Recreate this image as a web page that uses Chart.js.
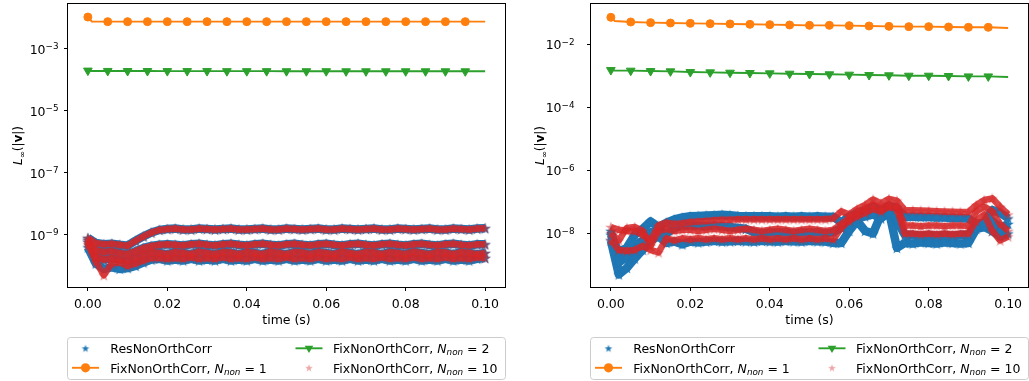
<!DOCTYPE html>
<html>
<head>
<meta charset="utf-8">
<script src="https://cdn.jsdelivr.net/npm/chart.js@4.4.1/dist/chart.umd.min.js"></script>
<style>
  body { margin: 0; background: #fff; }
  canvas { position: absolute; top: 0; }
  #chartLeft { left: 0; }
  #chartRight { left: 515px; }
</style>
</head>
<body>
<canvas id="chartLeft" width="515" height="381"></canvas>
<canvas id="chartRight" width="514" height="381"></canvas>
<script>
// time samples of the dense star clouds (s)
const timeSteps = [0, 0.002, 0.004, 0.006, 0.008, 0.01, 0.012, 0.014, 0.016, 0.018,
  0.02, 0.022, 0.024, 0.026, 0.028, 0.03, 0.032, 0.034, 0.036, 0.038,
  0.04, 0.042, 0.044, 0.046, 0.048, 0.05, 0.052, 0.054, 0.056, 0.058,
  0.06, 0.062, 0.064, 0.066, 0.068, 0.07, 0.072, 0.074, 0.076, 0.078,
  0.08, 0.082, 0.084, 0.086, 0.088, 0.09, 0.092, 0.094, 0.096, 0.098, 0.1];
// time samples of the fixed-correction lines
const lineTimes = [0, 0.001, 0.005, 0.01, 0.015, 0.02, 0.025, 0.03, 0.035, 0.04, 0.045,
  0.05, 0.055, 0.06, 0.065, 0.07, 0.075, 0.08, 0.085, 0.09, 0.095, 0.1];
const noMarker = [1, 21]; // line points drawn without a marker

const xTicks = [0, 0.02, 0.04, 0.06, 0.08, 0.1];
const leftYTicks = [1e-3, 1e-5, 1e-7, 1e-9];
const rightYTicks = [1e-2, 1e-4, 1e-6, 1e-8];

const legendNames = ['ResNonOrthCorr', 'FixNonOrthCorr', 'FixNonOrthCorr', 'FixNonOrthCorr'];
const legendNnon = [null, 1, 2, 10];

// ---- left panel ----
const leftFix1 = [0.0107, 0.0077, 0.0076, 0.0076, 0.0076, 0.0076, 0.0076, 0.0076, 0.0076, 0.0076, 0.0076,
  0.0076, 0.0076, 0.0076, 0.0076, 0.0076, 0.0076, 0.0076, 0.0076, 0.0076, 0.0076, 0.0076];
const leftFix2 = [2.0e-4, 1.95e-4, 1.95e-4, 1.94e-4, 1.94e-4, 1.93e-4, 1.93e-4, 1.93e-4, 1.92e-4, 1.92e-4, 1.92e-4,
  1.91e-4, 1.91e-4, 1.91e-4, 1.9e-4, 1.9e-4, 1.9e-4, 1.9e-4, 1.9e-4, 1.9e-4, 1.9e-4, 1.9e-4];

const leftResUpper = [8.0e-10, 5.5e-10, 5.0e-10, 5.2e-10, 4.8e-10, 4.5e-10, 6.5e-10, 9.0e-10, 1.2e-9, 1.45e-9,
  1.55e-9, 1.6e-9, 1.5e-9, 1.5e-9, 1.6e-9, 1.55e-9, 1.5e-9, 1.55e-9, 1.6e-9, 1.5e-9,
  1.5e-9, 1.55e-9, 1.6e-9, 1.5e-9, 1.5e-9, 1.6e-9, 1.55e-9, 1.5e-9, 1.55e-9, 1.6e-9,
  1.5e-9, 1.5e-9, 1.6e-9, 1.55e-9, 1.5e-9, 1.55e-9, 1.6e-9, 1.5e-9, 1.5e-9, 1.6e-9,
  1.55e-9, 1.5e-9, 1.55e-9, 1.6e-9, 1.5e-9, 1.5e-9, 1.6e-9, 1.55e-9, 1.5e-9, 1.6e-9, 1.65e-9];
const leftResMiddle = [7.0e-10, 3.2e-10, 2.8e-10, 3.0e-10, 2.6e-10, 2.4e-10, 3.0e-10, 3.8e-10, 4.4e-10, 4.8e-10,
  5.0e-10, 4.8e-10, 4.6e-10, 5.0e-10, 5.2e-10, 4.8e-10, 4.6e-10, 5.0e-10, 5.2e-10, 4.8e-10,
  4.6e-10, 5.0e-10, 5.2e-10, 4.8e-10, 4.6e-10, 5.0e-10, 5.2e-10, 4.8e-10, 4.6e-10, 5.0e-10,
  5.2e-10, 4.8e-10, 4.6e-10, 5.0e-10, 5.2e-10, 4.8e-10, 4.6e-10, 5.0e-10, 5.2e-10, 4.8e-10,
  4.6e-10, 5.0e-10, 5.2e-10, 4.8e-10, 4.6e-10, 5.0e-10, 5.2e-10, 4.8e-10, 4.6e-10, 5.0e-10, 5.0e-10];
const leftResLow1 = [6.0e-10, 2.0e-10, 1.6e-10, 1.8e-10, 1.6e-10, 1.5e-10, 1.8e-10, 2.4e-10, 2.8e-10, 2.6e-10,
  2.4e-10, 2.8e-10, 2.6e-10, 2.4e-10, 2.9e-10, 2.6e-10, 2.4e-10, 2.8e-10, 2.7e-10, 2.4e-10,
  2.8e-10, 2.6e-10, 2.4e-10, 2.9e-10, 2.6e-10, 2.4e-10, 2.8e-10, 2.7e-10, 2.4e-10, 2.8e-10,
  2.6e-10, 2.4e-10, 2.9e-10, 2.6e-10, 2.4e-10, 2.8e-10, 2.7e-10, 2.4e-10, 2.8e-10, 2.6e-10,
  2.4e-10, 2.9e-10, 2.6e-10, 2.4e-10, 2.8e-10, 2.7e-10, 2.4e-10, 2.8e-10, 2.6e-10, 2.4e-10, 2.6e-10];
const leftResLow2 = [4.0e-10, 1.2e-10, 8.0e-11, 9.0e-11, 8.0e-11, 8.5e-11, 1.0e-10, 1.3e-10, 1.6e-10, 1.7e-10,
  1.5e-10, 1.6e-10, 1.5e-10, 1.7e-10, 1.5e-10, 1.6e-10, 1.5e-10, 1.7e-10, 1.5e-10, 1.6e-10,
  1.5e-10, 1.7e-10, 1.5e-10, 1.6e-10, 1.5e-10, 1.7e-10, 1.5e-10, 1.6e-10, 1.5e-10, 1.7e-10,
  1.5e-10, 1.6e-10, 1.5e-10, 1.7e-10, 1.5e-10, 1.6e-10, 1.5e-10, 1.7e-10, 1.5e-10, 1.6e-10,
  1.5e-10, 1.7e-10, 1.5e-10, 1.6e-10, 1.5e-10, 1.7e-10, 1.5e-10, 1.6e-10, 1.5e-10, 1.7e-10, 1.8e-10];
const leftFixLow2 = [5.0e-10, 1.4e-10, 5.0e-11, 1.2e-10, 1.3e-10, 1.0e-10, 1.2e-10, 1.5e-10, 1.8e-10, 1.8e-10,
  1.7e-10, 1.8e-10, 1.7e-10, 1.9e-10, 1.7e-10, 1.8e-10, 1.7e-10, 1.9e-10, 1.7e-10, 1.8e-10,
  1.7e-10, 1.9e-10, 1.7e-10, 1.8e-10, 1.7e-10, 1.9e-10, 1.7e-10, 1.8e-10, 1.7e-10, 1.9e-10,
  1.7e-10, 1.8e-10, 1.7e-10, 1.9e-10, 1.7e-10, 1.8e-10, 1.7e-10, 1.9e-10, 1.7e-10, 1.8e-10,
  1.7e-10, 1.9e-10, 1.7e-10, 1.8e-10, 1.7e-10, 1.9e-10, 1.7e-10, 1.8e-10, 1.7e-10, 1.9e-10, 1.8e-10];

// ---- right panel ----
const rightFix1 = [0.0719, 0.055, 0.0512, 0.0488, 0.0475, 0.0464, 0.0453, 0.0443, 0.0432, 0.0421, 0.0411,
  0.0401, 0.0401, 0.0392, 0.0382, 0.0372, 0.0364, 0.0364, 0.0355, 0.0347, 0.0347, 0.033];
const rightFix2 = [0.00153, 0.00148, 0.00146, 0.00142, 0.00139, 0.00132, 0.00129, 0.00126, 0.00123, 0.0012, 0.00117,
  0.00114, 0.00112, 0.00109, 0.00106, 0.00104, 0.00101, 0.00101, 0.00099, 0.00096, 0.00096, 0.00092];

const rightResUpper = [9e-9, 2.5e-9, 3.5e-9, 9e-9, 1.4e-8, 2.4e-8, 1.6e-8, 2.2e-8, 2.8e-8, 3.2e-8,
  3.5e-8, 3.6e-8, 3.7e-8, 3.8e-8, 3.9e-8, 3.8e-8, 3.6e-8, 3.5e-8, 3.5e-8, 3.5e-8,
  3.5e-8, 3.4e-8, 3.5e-8, 3.4e-8, 3.5e-8, 3.4e-8, 3.5e-8, 3.4e-8, 3.4e-8,
  2.2e-8, 3.5e-8, 4.5e-8, 5.5e-8, 7e-8, 5.5e-8, 7.5e-8, 6.5e-8,
  3.4e-8, 3.4e-8, 3.3e-8, 3.3e-8, 3.2e-8, 3.2e-8, 3.1e-8, 3.1e-8, 3.0e-8,
  2.0e-8, 2.2e-8, 5.5e-8, 4.5e-8, 3.0e-8];
const rightResMiddle = [1.2e-8, 1.2e-9, 1.8e-9, 4e-9, 6e-9, 1.1e-8, 1.2e-8, 1.0e-8, 1.5e-8, 1.8e-8,
  1.8e-8, 1.8e-8, 1.7e-8, 1.8e-8, 1.7e-8, 1.6e-8, 1.5e-8, 1.4e-8,
  1.1e-8, 1.0e-8, 1.1e-8, 1.05e-8, 1.1e-8, 1.0e-8, 1.1e-8, 1.05e-8, 1.1e-8, 1.0e-8, 1.1e-8,
  1.5e-8, 2e-8, 3e-8, 3.5e-8, 4e-8, 3e-8, 4.5e-8, 2.5e-8,
  9e-9, 9e-9, 8.5e-9, 9e-9, 8.5e-9, 9e-9, 8.5e-9, 9e-9, 9e-9,
  1.8e-8, 2e-8, 2.5e-8, 1.5e-8, 2e-8];
const rightResLower = [6e-9, 5e-10, 8e-10, 1.6e-9, 3e-9, 6e-9, 8e-9, 5e-9, 5.5e-9, 4.5e-9,
  5.5e-9, 5.2e-9, 5.5e-9, 5.8e-9, 5.5e-9, 5.6e-9, 5.8e-9, 5.6e-9, 5.5e-9, 5.8e-9,
  5.6e-9, 5.5e-9, 5.8e-9, 5.6e-9, 5.5e-9, 5.8e-9, 5.6e-9, 5.5e-9, 5.0e-9,
  5e-9, 1.2e-8, 2.5e-8, 1.2e-8, 1.0e-8, 4e-8, 5e-8, 3.5e-9,
  5e-9, 4.8e-9, 5.2e-9, 5e-9, 4.8e-9, 5.2e-9, 5e-9, 4.8e-9, 5e-9,
  1.4e-8, 1.6e-8, 1.2e-8, 8e-9, 1.0e-8];

const rightFixUpper = [1.6e-8, 1.3e-8, 1.2e-8, 1.2e-8, 9e-9, 6e-9, 1.8e-8, 2.2e-8, 2.0e-8, 2.1e-8,
  2.3e-8, 2.4e-8, 2.5e-8, 2.6e-8, 2.7e-8, 2.7e-8, 2.8e-8, 2.8e-8, 2.8e-8, 2.8e-8,
  2.8e-8, 2.8e-8, 2.8e-8, 2.8e-8, 2.8e-8, 2.8e-8, 2.8e-8, 2.8e-8, 3.0e-8,
  5e-8, 4e-8, 6e-8, 8e-8, 1.2e-7, 9e-8, 1.25e-7, 1.1e-7,
  5.5e-8, 5.4e-8, 5.3e-8, 5.2e-8, 5.1e-8, 5e-8, 4.9e-8, 4.8e-8, 4.8e-8,
  8e-8, 1.15e-7, 1.3e-7, 7e-8, 4e-8];
const rightFixMiddle = [1.0e-8, 6e-9, 1.5e-8, 1.6e-8, 1.2e-8, 4e-9, 1.2e-8, 1.4e-8, 1.2e-8, 1.3e-8,
  1.3e-8, 1.2e-8, 1.3e-8, 1.4e-8, 1.3e-8, 1.2e-8, 1.3e-8, 1.4e-8, 1.3e-8, 1.2e-8,
  1.3e-8, 1.4e-8, 1.3e-8, 1.2e-8, 1.3e-8, 1.4e-8, 1.3e-8, 1.2e-8, 1.3e-8,
  2e-8, 3e-8, 4.5e-8, 6e-8, 8e-8, 6e-8, 8e-8, 7e-8,
  1.8e-8, 1.8e-8, 1.7e-8, 1.8e-8, 1.8e-8, 1.7e-8, 1.8e-8, 1.8e-8, 1.7e-8,
  5e-8, 7e-8, 5e-8, 2e-8, 1.2e-8];
const rightFixLower = [6e-9, 3e-9, 2.8e-9, 3e-9, 4e-9, 3e-9, 2.5e-9, 7e-9, 6e-9, 7e-9,
  6.5e-9, 7e-9, 6.5e-9, 7e-9, 6.5e-9, 7e-9, 6.5e-9, 7e-9, 6.5e-9, 7e-9,
  6.5e-9, 7e-9, 6.5e-9, 7e-9, 6.5e-9, 7e-9, 6.5e-9, 7e-9, 6.5e-9,
  1.5e-8, 2.5e-8, 3.5e-8, 4.5e-8, 6e-8, 5e-8, 7e-8, 6e-8,
  1.0e-8, 1.0e-8, 9.5e-9, 1.0e-8, 9.5e-9, 1.0e-8, 9.5e-9, 1.0e-8, 1.0e-8,
  2.5e-8, 4e-8, 1.2e-8, 6e-9, 8e-9];

const BLUE = '#1f77b4', ORANGE = '#ff7f0e', GREEN = '#2ca02c';
const FONT = 'DejaVu Sans';

Chart.defaults.font.family = FONT;
Chart.defaults.font.size = 12.5;
Chart.defaults.color = '#000';

// filled five-pointed star, like matplotlib's '*'
function starImage(fill, r) {
  const c = document.createElement('canvas');
  const s = Math.ceil(2 * r + 2);
  c.width = c.height = s;
  const g = c.getContext('2d');
  g.translate(s / 2, s / 2 + r * 0.1);
  g.beginPath();
  for (let i = 0; i < 10; i++) {
    const rad = i % 2 ? r * 0.4 : r;
    const a = -Math.PI / 2 + i * Math.PI / 5;
    g.lineTo(rad * Math.cos(a), rad * Math.sin(a));
  }
  g.closePath();
  g.fillStyle = fill;
  g.fill();
  return c;
}

const blueStar = starImage(BLUE, 6);
const redStar = starImage('rgba(214,39,40,0.5)', 6);
const blueStarSmall = starImage(BLUE, 4);
const pinkStarSmall = starImage('rgba(214,39,40,0.4)', 4);

function bandDataset(values, color, star, width, order) {
  return {
    data: timeSteps.map((t, i) => ({ x: t, y: values[i] })),
    showLine: true,
    borderColor: color,
    borderWidth: width,
    borderJoinStyle: 'round',
    pointStyle: star,
    pointRadius: 6,
    order: order
  };
}

function lineDataset(values, color, style, radius, order) {
  return {
    data: lineTimes.map((t, i) => ({ x: t, y: values[i] })),
    showLine: true,
    borderColor: color,
    borderWidth: 1.9,
    backgroundColor: color,
    pointStyle: style,
    pointRotation: style === 'triangle' ? 180 : 0,
    pointRadius: ctx => noMarker.includes(ctx.dataIndex) ? 0 : radius,
    pointBackgroundColor: color,
    pointBorderColor: color,
    pointBorderWidth: 1,
    order: order
  };
}

// rich text: list of runs [text, font, dy]
function drawRuns(ctx, runs, x, y, align) {
  let total = 0;
  runs.forEach(r => { ctx.font = r[1]; total += ctx.measureText(r[0]).width; });
  let cx = x;
  if (align === 'center') cx = x - total / 2;
  if (align === 'right') cx = x - total;
  runs.forEach(r => {
    ctx.font = r[1];
    ctx.fillText(r[0], cx, y + (r[2] || 0));
    cx += ctx.measureText(r[0]).width;
  });
}

function legendRuns(i) {
  const n = legendNnon[i];
  if (n === null) return [[legendNames[i], '12.5px ' + FONT]];
  return [[legendNames[i] + ', ', '12.5px ' + FONT], ['N', 'italic 12.5px ' + FONT],
    ['non', 'italic 8.8px ' + FONT, 2.2], [' = ' + n, '12.5px ' + FONT]];
}

function drawHandle(ctx, i, cx, cy) {
  if (i === 0 || i === 3) {
    const img = i === 0 ? blueStarSmall : pinkStarSmall;
    ctx.drawImage(img, cx - img.width / 2, cy - img.height / 2);
    return;
  }
  const color = i === 1 ? ORANGE : GREEN;
  ctx.strokeStyle = color;
  ctx.fillStyle = color;
  ctx.lineWidth = 1.9;
  ctx.beginPath();
  ctx.moveTo(cx - 13.5, cy);
  ctx.lineTo(cx + 13.5, cy);
  ctx.stroke();
  ctx.beginPath();
  if (i === 1) {
    ctx.arc(cx, cy, 4.6, 0, Math.PI * 2);
  } else {
    ctx.moveTo(cx - 4.3, cy - 2.6);
    ctx.lineTo(cx + 4.3, cy - 2.6);
    ctx.lineTo(cx, cy + 4.8);
    ctx.closePath();
  }
  ctx.fill();
}

function decor(panel) {
  return {
    id: 'decor',
    afterDraw(chart) {
      const ctx = chart.ctx;
      const a = chart.chartArea;
      const xs = chart.scales.x, ys = chart.scales.y;
      ctx.save();
      // spines
      ctx.strokeStyle = '#000';
      ctx.lineWidth = 1;
      ctx.strokeRect(a.left - 0.5, a.top - 0.5, a.right - a.left + 1, a.bottom - a.top + 1);

      ctx.fillStyle = '#000';
      ctx.textBaseline = 'alphabetic';
      // tick labels
      xTicks.forEach(v => {
        drawRuns(ctx, [[v.toFixed(2), '12.5px ' + FONT]], xs.getPixelForValue(v), 307.5, 'center');
      });
      panel.yTicks.forEach(v => {
        const e = Math.round(Math.log10(v));
        drawRuns(ctx, [['10', '12.5px ' + FONT], ['\u2212' + Math.abs(e), '8.8px ' + FONT, -4.2]],
          a.left - panel.labelGap, ys.getPixelForValue(v) + 4.6, 'right');
      });
      // x title
      drawRuns(ctx, [['time (s)', '12.5px ' + FONT]], (a.left + a.right) / 2, 324, 'center');
      // y title
      ctx.save();
      ctx.translate(panel.yTitleX, (a.top + a.bottom) / 2);
      ctx.rotate(-Math.PI / 2);
      drawRuns(ctx, [['L', 'italic 12px ' + FONT], ['\u221e', '8.5px ' + FONT, 2.5], ['(|', '12px ' + FONT],
        ['v', 'bold 12px ' + FONT], ['|)', '12px ' + FONT]], 0, 4, 'center');
      ctx.restore();

      // legend box
      const bx = a.left - 0.5, by = 337.5, bw = a.right - a.left + 1, bh = 42;
      ctx.beginPath();
      ctx.roundRect(bx, by, bw, bh, 3);
      ctx.fillStyle = '#fff';
      ctx.fill();
      ctx.strokeStyle = '#cccccc';
      ctx.lineWidth = 1;
      ctx.stroke();

      const cols = [a.left + 17.5, a.left + 241];
      const textCols = [a.left + 42.3, a.left + 265];
      const rows = [353, 372.5];
      [[0, 0], [0, 1], [1, 0], [1, 1]].forEach(([c, r], i) => {
        drawHandle(ctx, i, cols[c], rows[r] - 4.7);
        ctx.fillStyle = '#000';
        drawRuns(ctx, legendRuns(i), textCols[c], rows[r], 'left');
      });
      ctx.restore();
    }
  };
}

function makeChart(id, panel) {
  const datasets = [];
  panel.res.forEach(v => datasets.push(bandDataset(v, BLUE, blueStar, 8.5, 4)));
  datasets.push(lineDataset(panel.fix1, ORANGE, 'circle', 4, 3));
  datasets.push(lineDataset(panel.fix2, GREEN, 'triangle', 5, 2));
  panel.fix10.forEach(v => datasets.push(bandDataset(v, 'rgba(214,39,40,0.85)', redStar, 6.5, 1)));

  new Chart(document.getElementById(id), {
    type: 'scatter',
    data: { datasets },
    options: {
      responsive: false,
      animation: false,
      events: [],
      layout: { autoPadding: false, padding: { left: 0, right: panel.padRight, top: 4, bottom: 64 } },
      scales: {
        x: {
          type: 'linear',
          min: -0.005,
          max: 0.105,
          afterBuildTicks: s => { s.ticks = xTicks.map(v => ({ value: v })); },
          afterFit: s => { s.height = 30; },
          ticks: { display: false },
          grid: { drawOnChartArea: false, tickLength: 4, color: '#000' },
          border: { display: false }
        },
        y: {
          type: 'logarithmic',
          min: panel.yMin,
          max: panel.yMax,
          afterBuildTicks: s => { s.ticks = panel.yTicks.map(v => ({ value: v })); },
          afterFit: s => { s.width = panel.axisWidth; },
          ticks: { display: false },
          grid: { drawOnChartArea: false, tickLength: 4, color: '#000' },
          border: { display: false }
        }
      },
      plugins: { legend: { display: false }, tooltip: { enabled: false } }
    },
    plugins: [decor(panel)]
  });
}

makeChart('chartLeft', {
  res: [leftResUpper, leftResMiddle, leftResLow1, leftResLow2],
  fix10: [leftResUpper, leftResMiddle, leftResLow1, leftFixLow2],
  fix1: leftFix1,
  fix2: leftFix2,
  yMin: Math.pow(10, -10.68),
  yMax: Math.pow(10, -1.55),
  yTicks: leftYTicks,
  axisWidth: 68,
  padRight: 10,
  labelGap: 9.5,
  yTitleX: 18
});

makeChart('chartRight', {
  res: [rightResUpper, rightResMiddle, rightResLower],
  fix10: [rightFixUpper, rightFixMiddle, rightFixLower],
  fix1: rightFix1,
  fix2: rightFix2,
  yMin: Math.pow(10, -9.7),
  yMax: Math.pow(10, -0.72),
  yTicks: rightYTicks,
  axisWidth: 76,
  padRight: 1,
  labelGap: 16.5,
  yTitleX: 25
});
</script>
</body>
</html>
